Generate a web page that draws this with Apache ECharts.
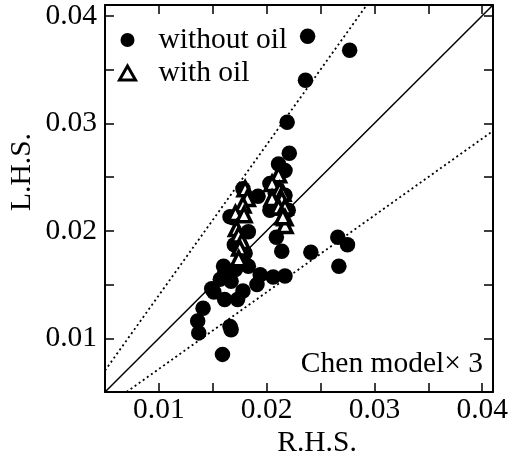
<!DOCTYPE html>
<html>
<head>
<meta charset="utf-8">
<script src="https://cdn.jsdelivr.net/npm/echarts@6/dist/echarts.min.js"></script>
<style>
  html, body { margin: 0; padding: 0; background: #fff; }
  #chart { width: 514px; height: 461px; }
</style>
</head>
<body>
<div id="chart"></div>
<script>
// Measured pairs: right-hand side (x) against left-hand side (y)
const withoutOilRHS = [
  0.0238, 0.0277, 0.0236, 0.0219, 0.0221, 0.0211, 0.0217, 0.0178, 0.0192, 0.0203,
  0.0220, 0.0209, 0.0214, 0.0241, 0.0266, 0.0275, 0.0267, 0.0183, 0.0160, 0.0171,
  0.0194, 0.0206, 0.0217, 0.0157, 0.0167, 0.0149, 0.0178, 0.0191, 0.0161, 0.0173,
  0.0141, 0.0136, 0.0137, 0.0167, 0.0166, 0.0159, 0.0151, 0.0166, 0.0169, 0.0183,
  0.0170, 0.0203, 0.0217, 0.0208, 0.0161, 0.0180
];
const withoutOilLHS = [
  0.0381, 0.0368, 0.0340, 0.0301, 0.0272, 0.0262, 0.0256, 0.0239, 0.0232, 0.0219,
  0.0219, 0.0194, 0.0181, 0.0180, 0.0194, 0.0187, 0.0167, 0.0167, 0.0167, 0.0164,
  0.0159, 0.0157, 0.0158, 0.0155, 0.0153, 0.0146, 0.0144, 0.0150, 0.0136, 0.0136,
  0.0128, 0.0116, 0.0105, 0.0108, 0.0111, 0.0085, 0.0143, 0.0213, 0.0212, 0.0199,
  0.0187, 0.0244, 0.0233, 0.0235, 0.0160, 0.0179
];
const withOilRHS = [
  0.0180, 0.0182, 0.0178, 0.0171, 0.0179, 0.0172, 0.0174, 0.0177, 0.0175, 0.0174,
  0.0211, 0.0205, 0.0212, 0.0215, 0.0205, 0.0214, 0.0211, 0.0217, 0.0217, 0.0217,
  0.0215
];
const withOilLHS = [
  0.0239, 0.0230, 0.0224, 0.0216, 0.0215, 0.0202, 0.0196, 0.0190, 0.0184, 0.0174,
  0.0252, 0.0244, 0.0238, 0.0235, 0.0230, 0.0229, 0.0222, 0.0222, 0.0212, 0.0205,
  0.0213
];

// Axis extent and ticks
const axisMin = 0.005;
const axisMax = 0.041;
const tickStep = 0.005;
const tickLabels = ['0.01', '0.02', '0.03', '0.04'];

// Reference lines: perfect agreement and the ±40 % band around it
const bandFactor = 1.4;

const serif = '"Liberation Serif", "Times New Roman", serif';
const fontSize = 29.5;

function zip(xs, ys) { return xs.map((x, i) => [x, ys[i]]); }

function tickFormatter(v) {
  const s = v.toFixed(2);
  return (Math.abs(v - parseFloat(s)) < 1e-9 && tickLabels.indexOf(s) >= 0) ? s : '';
}

const axisCommon = {
  type: 'value',
  min: axisMin,
  max: axisMax,
  interval: tickStep,
  splitLine: { show: false },
  axisLine: { show: true, onZero: false, lineStyle: { color: '#000', width: 2 } },
  axisTick: { show: true, inside: true, length: 9, lineStyle: { color: '#000', width: 1.5 } }
};

const chart = echarts.init(document.getElementById('chart'), null, { renderer: 'canvas' });

chart.setOption({
  animation: false,
  backgroundColor: '#fff',
  grid: { left: 105, right: 21, top: 5, bottom: 69, containLabel: false, outerBoundsMode: 'none' },
  xAxis: [
    Object.assign({}, axisCommon, {
      position: 'bottom',
      axisLabel: { show: true, margin: 3, color: '#000', fontFamily: serif, fontSize: fontSize, formatter: tickFormatter }
    }),
    Object.assign({}, axisCommon, { position: 'top', axisLabel: { show: false } })
  ],
  yAxis: [
    Object.assign({}, axisCommon, {
      position: 'left',
      axisLabel: { show: true, margin: 8, color: '#000', fontFamily: serif, fontSize: fontSize, formatter: tickFormatter }
    }),
    Object.assign({}, axisCommon, { position: 'right', axisLabel: { show: false } })
  ],
  legend: {
    data: [
      { name: 'without oil' },
      { name: 'with oil', itemStyle: { color: '#fff', borderColor: '#000', borderWidth: 3 } }
    ],
    orient: 'vertical',
    left: 113,
    top: 20,
    itemWidth: 16,
    itemHeight: 14,
    itemGap: 3,
    selectedMode: false,
    symbolKeepAspect: true,
    textStyle: { color: '#000', fontFamily: serif, fontSize: fontSize, padding: [0, 0, 0, 18] }
  },
  series: [
    {
      name: 'agreement',
      type: 'line',
      silent: true,
      symbol: 'none',
      lineStyle: { color: '#000', width: 1.5 },
      data: [[axisMin, axisMin], [axisMax, axisMax]],
      z: 1
    },
    {
      name: 'upper band',
      type: 'line',
      silent: true,
      symbol: 'none',
      lineStyle: { color: '#000', width: 1.8, type: [2, 3] },
      data: [[axisMin, axisMin * bandFactor], [axisMax / bandFactor, axisMax]],
      z: 1
    },
    {
      name: 'lower band',
      type: 'line',
      silent: true,
      symbol: 'none',
      lineStyle: { color: '#000', width: 1.8, type: [2, 3] },
      data: [[axisMin * bandFactor, axisMin], [axisMax, axisMax / bandFactor]],
      z: 1
    },
    {
      name: 'without oil',
      type: 'scatter',
      symbol: 'circle',
      symbolSize: 15.5,
      itemStyle: { color: '#000', opacity: 1 },
      data: zip(withoutOilRHS, withoutOilLHS),
      z: 2
    },
    {
      name: 'with oil',
      type: 'scatter',
      symbol: 'triangle',
      symbolSize: 14,
      symbolKeepAspect: true,
      itemStyle: { color: '#fff', borderColor: '#000', borderWidth: 3.5, opacity: 1 },
      data: zip(withOilRHS, withOilLHS),
      z: 3
    }
  ],
  graphic: [
    {
      type: 'text',
      x: 483, y: 364,
      style: { text: 'Chen model\u00d7 3', font: fontSize + 'px ' + serif, fill: '#000', align: 'right', verticalAlign: 'middle' }
    },
    {
      type: 'text',
      x: 317, y: 443,
      style: { text: 'R.H.S.', font: fontSize + 'px ' + serif, fill: '#000', align: 'center', verticalAlign: 'middle' }
    },
    {
      type: 'text',
      x: 22, y: 172,
      rotation: Math.PI / 2,
      style: { text: 'L.H.S.', font: fontSize + 'px ' + serif, fill: '#000', align: 'center', verticalAlign: 'middle' }
    }
  ]
});
</script>
</body>
</html>
